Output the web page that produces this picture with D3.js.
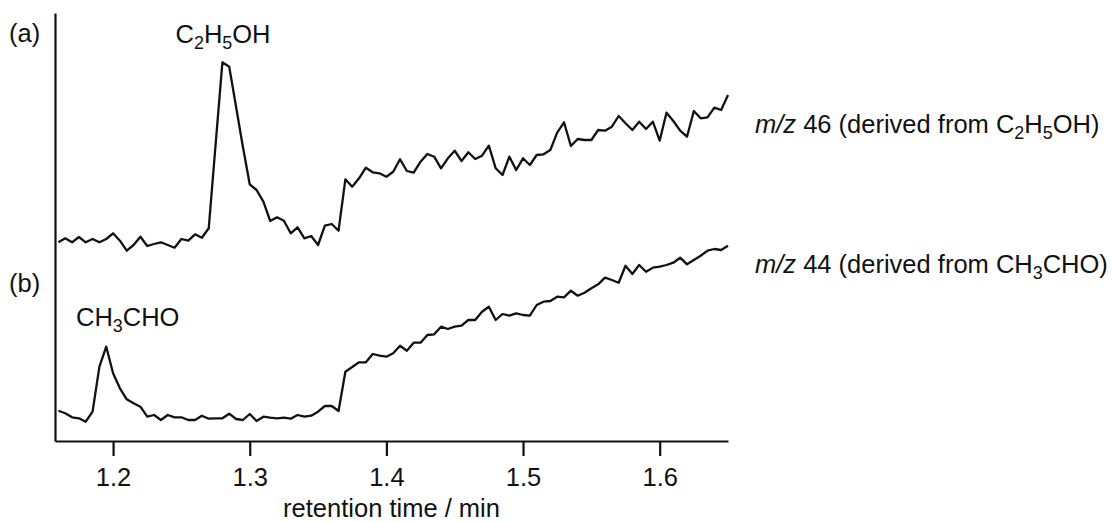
<!DOCTYPE html>
<html>
<head>
<meta charset="utf-8">
<script src="https://cdn.jsdelivr.net/npm/d3@7"></script>
<style>
  html, body { margin: 0; padding: 0; background: #fff; }
  svg { display: block; }
  text { font-family: "Liberation Sans", Arial, Helvetica, sans-serif; fill: #111; }
</style>
</head>
<body>
<svg id="chart" width="1112" height="522"></svg>
<script>
// ---- data (signal in arbitrary units, traces offset vertically as in the figure) ----
const timeStart = 1.16;      // min, first sample
const timeStep = 0.005;      // min, sampling interval
const xTicks = [1.2, 1.3, 1.4, 1.5, 1.6];
const xTickLabels = ["1.2", "1.3", "1.4", "1.5", "1.6"];
const xDomain = [1.1575, 1.65];
const yDomain = [0, 428];

// (a) m/z 46 (derived from C2H5OH)
const mz46 = [
  198.7, 202.7, 198.7, 204, 198.7, 202, 198.7, 202, 207.7, 200.3,
  190.3, 196, 204.3, 195, 197, 198.7, 196, 193.3, 202, 200.3,
  206.7, 203.3, 212.7, 296, 378.7, 374.3, 334.3, 294.3, 256.7, 251,
  239.3, 220, 223.7, 220.3, 207.7, 213.7, 202.7, 205, 196, 215.3,
  217, 210.3, 261.7, 254.3, 262.7, 273.3, 268.7, 267.7, 264.3, 269.3,
  281.7, 270, 268.3, 279.3, 287, 284.3, 272.7, 282.7, 290.3, 280,
  288.7, 282, 285.3, 295.3, 272.7, 266, 284.3, 271, 282.7, 276,
  286, 286.7, 291, 308.3, 318.7, 295, 302, 301, 301, 311,
  310.3, 314.3, 325, 317.7, 311, 319.3, 312, 319.3, 300.3, 328.3,
  320, 310.3, 304.3, 330, 322.7, 323.7, 333.3, 331, 346
];

// (b) m/z 44 (derived from CH3CHO)
const mz44 = [
  30.3, 27.7, 23.7, 22.7, 19.3, 29.3, 74.3, 94.3, 67.7, 52.7,
  41.7, 37.7, 34.3, 24.3, 26, 21, 26, 23.7, 23.7, 21,
  21, 25.3, 22.3, 22.7, 22.7, 27.3, 22, 21, 27, 20,
  24.3, 23.3, 22.7, 23.3, 22.3, 26, 24.3, 25.3, 29.3, 35,
  35, 30, 69.3, 74, 78.7, 78.7, 87, 85.3, 84.3, 87.7,
  95.3, 90.3, 98.3, 98.3, 106, 106.7, 114.3, 112, 114.3, 115.3,
  121, 121, 129.3, 134.3, 121, 127, 125.3, 127.7, 126, 125.3,
  136, 139.3, 140, 144.3, 143.7, 150.3, 145.3, 148.3, 152.7, 156.7,
  163.3, 161, 158.3, 175.3, 167, 176, 169.3, 173.3, 174.3, 176,
  178.3, 183.3, 176.7, 181, 185.3, 190.3, 192, 191, 195.3
];

// ---- layout ----
const svg = d3.select("#chart");
const plot = { left: 55, right: 728, top: 13, bottom: 441 };

const x = d3.scaleLinear().domain(xDomain).range([plot.left, plot.right]);
const y = d3.scaleLinear().domain(yDomain).range([plot.bottom, plot.top]);

const times = d3.range(mz46.length).map(i => timeStart + i * timeStep);

const line = d3.line()
  .x((d, i) => x(times[i]))
  .y(d => y(d));

// traces
[mz46, mz44].forEach(series => {
  svg.append("path")
    .datum(series)
    .attr("d", line)
    .attr("fill", "none")
    .attr("stroke", "#111")
    .attr("stroke-width", 2.3)
    .attr("stroke-linejoin", "round");
});

const FS = 25.5;

// x axis
const xAxis = d3.axisBottom(x)
  .tickValues(xTicks)
  .tickFormat((d, i) => xTickLabels[i])
  .tickSize(15)
  .tickSizeOuter(0)
  .tickPadding(12);

const gx = svg.append("g")
  .attr("transform", `translate(0,${plot.bottom})`)
  .call(xAxis);
gx.select(".domain").attr("stroke", "#111").attr("stroke-width", 2.2);
gx.selectAll(".tick line").attr("stroke", "#111").attr("stroke-width", 2.2);
gx.selectAll(".tick text")
  .attr("font-size", FS)
  .attr("font-family", "Liberation Sans, Arial, sans-serif")
  .attr("fill", "#111");

// y axis (plain line, no ticks)
const yAxis = d3.axisLeft(y).tickValues([]).tickSizeOuter(0);
const gy = svg.append("g")
  .attr("transform", `translate(${plot.left},0)`)
  .call(yAxis);
gy.select(".domain").attr("stroke", "#111").attr("stroke-width", 2.2);

// axis title
svg.append("text")
  .attr("x", (plot.left + plot.right) / 2)
  .attr("y", 517)
  .attr("text-anchor", "middle")
  .attr("font-size", FS)
  .text("retention time / min");

// helper for chemical formulas with subscripts
function formula(sel, parts, size) {
  const shift = size * 0.22;
  let lowered = false;
  parts.forEach(p => {
    const ts = sel.append("tspan").text(p.t);
    if (p.sub) {
      ts.attr("font-size", size * 0.7);
      if (!lowered) { ts.attr("dy", shift); lowered = true; }
    } else {
      if (lowered) { ts.attr("dy", -shift); lowered = false; }
      if (p.it) ts.attr("font-style", "italic");
    }
  });
}

// panel labels
svg.append("text").attr("x", 9).attr("y", 42).attr("font-size", FS).text("(a)");
svg.append("text").attr("x", 9).attr("y", 292).attr("font-size", FS).text("(b)");

// peak labels
const t1 = svg.append("text").attr("x", 223).attr("y", 43).attr("text-anchor", "middle").attr("font-size", FS);
formula(t1, [{t:"C"},{t:"2",sub:true},{t:"H"},{t:"5",sub:true},{t:"OH"}], FS);

const t2 = svg.append("text").attr("x", 76).attr("y", 326).attr("font-size", FS);
formula(t2, [{t:"CH"},{t:"3",sub:true},{t:"CHO"}], FS);

// trace labels
const t3 = svg.append("text").attr("x", 755).attr("y", 133).attr("font-size", FS);
formula(t3, [{t:"m/z",it:true},{t:" 46 (derived from C"},{t:"2",sub:true},{t:"H"},{t:"5",sub:true},{t:"OH)"}], FS);

const t4 = svg.append("text").attr("x", 755).attr("y", 273).attr("font-size", FS);
formula(t4, [{t:"m/z",it:true},{t:" 44 (derived from CH"},{t:"3",sub:true},{t:"CHO)"}], FS);
</script>
</body>
</html>
